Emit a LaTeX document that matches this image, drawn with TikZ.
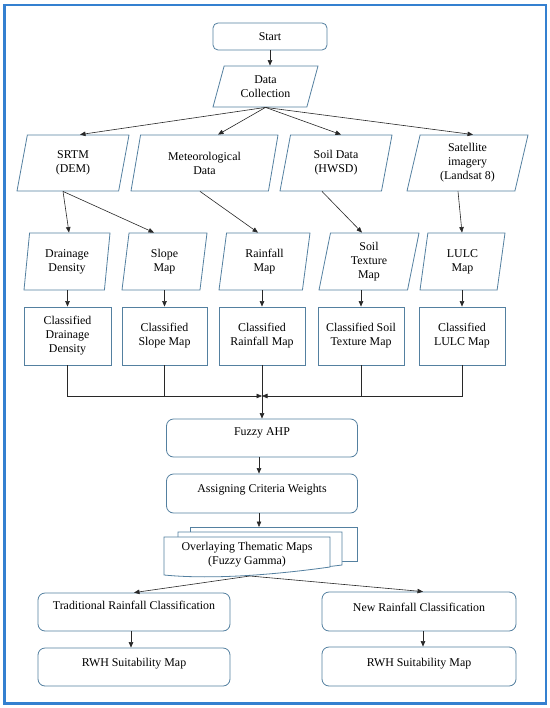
\documentclass[tikz,border=0pt]{standalone}
\usepackage{fontspec}
\setmainfont{Liberation Serif}
\newfontfamily\tnr{Liberation Serif}
\usetikzlibrary{shapes.geometric,arrows.meta,calc}
\definecolor{boxc}{RGB}{84,128,160}
\definecolor{framec}{RGB}{52,128,208}
\definecolor{arrc}{RGB}{40,40,40}
\begin{document}
\begin{tikzpicture}[x=1bp,y=-1bp,
 every node/.style={font=\tnr\fontsize{11.9bp}{14bp}\selectfont, text=black},
 para/.style={trapezium, trapezium stretches body, draw=boxc, line width=0.8bp, align=center, inner xsep=1bp, inner ysep=1bp},
 ang/.style 2 args={trapezium left angle=#1, trapezium right angle=#2},
 rbox/.style={draw=boxc, line width=0.8bp, rounded corners=7bp, align=center},
 sbox/.style={draw=boxc, line width=0.8bp, align=center},
 up/.style={text height=8bp, text depth=#1},
 arr/.style={draw=arrc, line width=0.6bp, -{Triangle[length=5.5bp,width=4.5bp]}},
 ln/.style={draw=arrc, line width=0.6bp},
 doc/.style={draw=boxc, line width=0.8bp, fill=white}
]
\path[use as bounding box, fill=white] (0,0) rectangle (550,708);
\draw[framec, line width=2.5bp] (4.5,5) rectangle (546,703.5);

\node[rbox, rounded corners=5bp, minimum width=114bp, minimum height=27bp] (start) at (270,36.5) {Start};
\node[para, ang={65}{115}, minimum width=105bp, minimum height=41bp] (dc) at (265.5,86.5) {Data\\Collection};

\node[para, ang={68.6}{111.4}, minimum width=112bp, minimum height=56bp] (srtm) at (73,163) {SRTM\\(DEM)};
\node[para, ang={68.6}{111.4}, minimum width=147bp, minimum height=56bp] (met) at (204.5,163) {Meteorological\\Data};
\node[para, ang={68.6}{111.4}, minimum width=112bp, minimum height=56bp] (soil) at (336,163) {Soil Data\\(HWSD)};
\node[para, ang={72.2}{107.8}, minimum width=121bp, minimum height=56bp] (sat) at (467.5,163) {Satellite\\imagery\\(Landsat 8)};

\node[para, ang={78.1}{101.9}, minimum width=86bp, minimum height=57bp] (dd) at (67,261.5) {Drainage\\Density};
\node[para, ang={75.3}{104.7}, minimum width=85bp, minimum height=57bp] (sm) at (164.5,261.5) {Slope\\Map};
\node[para, ang={74.3}{105.7}, minimum width=91bp, minimum height=57bp] (rm) at (264.5,261.5) {Rainfall\\Map};
\node[para, ang={74.3}{105.7}, minimum width=100bp, minimum height=57bp] (st) at (369,261.5) {Soil\\Texture\\Map};
\node[para, ang={73.4}{106.6}, minimum width=85bp, minimum height=57bp] (lu) at (462.5,261.5) {LULC\\Map};

\node[sbox, minimum width=87bp, minimum height=58bp] (cdd) at (67.5,336) {Classified\\Drainage\\Density};
\node[sbox, minimum width=85bp, minimum height=58bp] (csm) at (164.5,336) {Classified\\Slope Map};
\node[sbox, minimum width=86bp, minimum height=58bp] (crm) at (262,336) {Classified\\Rainfall Map};
\node[sbox, minimum width=86bp, minimum height=58bp] (cst) at (361,336) {Classified Soil\\Texture Map};
\node[sbox, minimum width=86bp, minimum height=58bp] (clu) at (462,336) {Classified\\LULC Map};

\coordinate (mrg) at (262,396);

\node[rbox, up=13bp, minimum width=191bp, minimum height=38bp] (fahp) at (262,438) {Fuzzy AHP};
\node[rbox, up=10bp, minimum width=191bp, minimum height=39bp] (assign) at (262,493.5) {Assigning Criteria Weights};

\draw[doc] (190,527) -- (357,527) -- (357,561) -- (190,561) -- cycle;
\draw[doc] (178,532) -- (342,532) -- (342,565) .. controls (294,571) and (229,577) .. (178,571) -- cycle;
\draw[doc] (164,537) -- (330,537) -- (330,567) .. controls (280,574) and (215,580) .. (164,575) -- cycle;
\node[align=center] (ovl) at (247,555) {Overlaying Thematic Maps\\(Fuzzy Gamma)};
\coordinate (ovtop) at (259,527);
\coordinate (ovbot) at (250,576);

\node[rbox, up=13bp, minimum width=192bp, minimum height=38bp] (trad) at (134,612) {Traditional Rainfall Classification};
\node[rbox, up=9bp, minimum width=194bp, minimum height=39bp] (new) at (419,611.5) {New Rainfall Classification};
\node[rbox, up=9bp, minimum width=192bp, minimum height=38bp] (rwh1) at (134,667) {RWH Suitability Map};
\node[rbox, up=9bp, minimum width=194bp, minimum height=39bp] (rwh2) at (419,666.5) {RWH Suitability Map};

\draw[arr] (start.south) -- (start.south |- dc.north);
\draw[arr] (dc.south) -- ([xshift=7bp]srtm.north);
\draw[arr] (dc.south) -- ([xshift=13.5bp]met.north);
\draw[arr] (dc.south) -- ([xshift=5bp]soil.north);
\draw[arr] (dc.south) -- ([xshift=5.5bp]sat.north);

\draw[arr] ([xshift=-10bp]srtm.south) -- ([xshift=2bp]dd.north);
\draw[arr] ([xshift=-10bp]srtm.south) -- ([xshift=-10.5bp]sm.north);
\draw[arr] ([xshift=-4.5bp]met.south) -- ([xshift=-6.5bp]rm.north);
\draw[arr] ([xshift=-14bp]soil.south) -- ([xshift=-7bp]st.north);
\draw[arr] ([xshift=-9.5bp]sat.south) -- ([xshift=-0.5bp]lu.north);

\draw[arr] (cdd.north |- dd.south) -- (cdd.north);
\draw[arr] (csm.north |- sm.south) -- (csm.north);
\draw[arr] (crm.north |- rm.south) -- (crm.north);
\draw[arr] (cst.north |- st.south) -- (cst.north);
\draw[arr] (clu.north |- lu.south) -- (clu.north);

\draw[arr] (cdd.south) |- (mrg);
\draw[ln] (csm.south) -- (csm.south |- mrg);
\draw[ln] (cst.south) -- (cst.south |- mrg);
\draw[arr] (clu.south) |- (mrg);
\draw[arr] (crm.south) -- (crm.south |- fahp.north);

\draw[arr] ([xshift=-3bp]fahp.south) -- ([xshift=-3bp]assign.north);
\draw[arr] (assign.south -| ovtop) -- (ovtop);
\draw[arr] (ovbot) -- (trad.north);
\draw[arr] (ovbot) -- ([xshift=4bp]new.north);
\draw[arr] ([xshift=-3bp]trad.south) -- ([xshift=-3bp]rwh1.north);
\draw[arr] ([xshift=4bp]new.south) -- ([xshift=4bp]rwh2.north);
\end{tikzpicture}
\end{document}
